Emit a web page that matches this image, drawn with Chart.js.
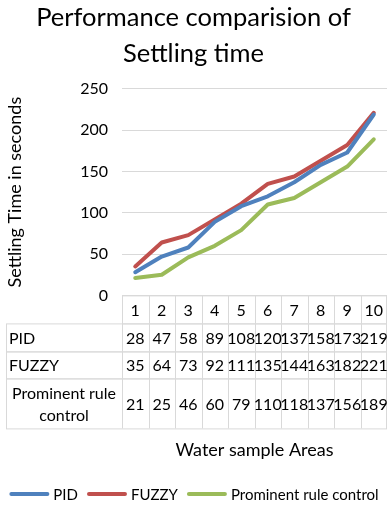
<!DOCTYPE html>
<html>
<head>
<meta charset="utf-8">
<script src="https://cdn.jsdelivr.net/npm/chart.js@4"></script>
<style>
  html, body { margin: 0; padding: 0; background: #fff; }
  #wrap { width: 388px; height: 506px; }
</style>
</head>
<body>
<div id="wrap"><canvas id="chart" width="388" height="506"></canvas></div>
<script>
// chart data
const categories = ['1', '2', '3', '4', '5', '6', '7', '8', '9', '10'];
const pidValues = [28, 47, 58, 89, 108, 120, 137, 158, 173, 219];
const fuzzyValues = [35, 64, 73, 92, 111, 135, 144, 163, 182, 221];
const prominentValues = [21, 25, 46, 60, 79, 110, 118, 137, 156, 189];
const seriesNames = ['PID', 'FUZZY', 'Prominent rule control'];
const tableRowLabels = [['PID'], ['FUZZY'], ['Prominent rule', 'control']];
const yMax = 250;
const yStep = 50;

const FONT = 'Lato, "Open Sans", sans-serif';
const colors = ['#4F81BD', '#C0504D', '#9BBB59'];
const gridColor = '#d9d9d9';

// draws the Excel-like data table under the plot, aligned to the x scale
const dataTablePlugin = {
    id: 'dataTable',
    afterDraw(chart) {
        const ctx = chart.ctx;
        const x = chart.scales.x;
        const top = chart.chartArea.bottom;
        const colW = (x.right - x.left) / categories.length;
        const rowH = [28, 28, 27, 50];
        const tableLeft = 6;
        const rows = [pidValues, fuzzyValues, prominentValues];

        ctx.save();
        ctx.font = '16px ' + FONT;
        ctx.fillStyle = '#000';
        ctx.textBaseline = 'middle';
        ctx.strokeStyle = gridColor;
        ctx.lineWidth = 1;

        // header row
        let y = top;
        ctx.strokeRect(Math.round(x.left) + 0.5, y + 0.5, Math.round(x.right - x.left) - 1, rowH[0]);
        categories.forEach((c, i) => {
            const cx = x.getPixelForValue(i);
            ctx.textAlign = 'center';
            ctx.fillText(c, cx, y + rowH[0] / 2 + 1);
            if (i > 0) {
                const lx = Math.round(x.left + colW * i) + 0.5;
                ctx.beginPath();
                ctx.moveTo(lx, y);
                ctx.lineTo(lx, y + rowH[0]);
                ctx.stroke();
            }
        });
        y += rowH[0];

        // data rows
        rows.forEach((vals, r) => {
            const h = rowH[r + 1];
            ctx.strokeRect(tableLeft + 0.5, y + 0.5, Math.round(x.right) - tableLeft - 1, h);
            ctx.beginPath();
            ctx.moveTo(Math.round(x.left) + 0.5, y);
            ctx.lineTo(Math.round(x.left) + 0.5, y + h);
            ctx.stroke();
            for (let i = 1; i < categories.length; i++) {
                const lx = Math.round(x.left + colW * i) + 0.5;
                ctx.beginPath();
                ctx.moveTo(lx, y);
                ctx.lineTo(lx, y + h);
                ctx.stroke();
            }
            const lines = tableRowLabels[r];
            if (lines.length === 1) {
                ctx.textAlign = 'left';
                ctx.fillText(lines[0], tableLeft + 3, y + h / 2 + 1);
            } else {
                ctx.textAlign = 'center';
                const mid = (tableLeft + x.left) / 2;
                lines.forEach((t, k) => {
                    ctx.fillText(t, mid, y + h / 2 + 1 + (k - (lines.length - 1) / 2) * 22);
                });
            }
            ctx.textAlign = 'center';
            vals.forEach((v, i) => {
                ctx.fillText(String(v), x.getPixelForValue(i), y + h / 2 + 1);
            });
            y += h;
        });
        ctx.restore();
    }
};

// single-row legend along the bottom edge, like Excel's
const bottomLegendPlugin = {
    id: 'bottomLegend',
    afterDraw(chart) {
        const ctx = chart.ctx;
        const lineLen = 36;
        const gap = 4;
        const itemGap = 9;
        const y = chart.height - 12;
        ctx.save();
        ctx.font = '15px ' + FONT;
        ctx.textBaseline = 'middle';
        ctx.textAlign = 'left';
        const items = chart.data.datasets.map(ds => ({
            text: ds.label,
            color: ds.borderColor,
            w: ctx.measureText(ds.label).width
        }));
        const total = items.reduce((s, it) => s + lineLen + 4 + gap + it.w, 0) + itemGap * (items.length - 1);
        let x = (chart.width - total) / 2;
        items.forEach(it => {
            ctx.strokeStyle = it.color;
            ctx.lineWidth = 4;
            ctx.lineCap = 'round';
            ctx.beginPath();
            ctx.moveTo(x + 2, y);
            ctx.lineTo(x + 2 + lineLen, y);
            ctx.stroke();
            x += lineLen + 4 + gap;
            ctx.fillStyle = '#000';
            ctx.fillText(it.text, x, y + 1);
            x += it.w + itemGap;
        });
        ctx.restore();
    }
};

const ctx = document.getElementById('chart').getContext('2d');
new Chart(ctx, {
    type: 'line',
    data: {
        labels: categories,
        datasets: [pidValues, fuzzyValues, prominentValues].map((vals, i) => ({
            label: seriesNames[i],
            data: vals,
            borderColor: colors[i],
            backgroundColor: colors[i],
            borderWidth: 4,
            borderCapStyle: 'round',
            borderJoinStyle: 'round',
            pointRadius: 0,
            tension: 0,
            fill: false
        }))
    },
    options: {
        responsive: false,
        animation: false,
        layout: { padding: { left: 0, right: 1, top: 0, bottom: 0 } },
        plugins: {
            tooltip: { enabled: false },
            legend: { display: false },
            title: {
                display: true,
                text: ['Performance comparision of', 'Settling time'],
                color: '#000',
                font: { family: FONT, size: 25.5, weight: 'normal', lineHeight: 1.41 },
                padding: { top: 0, bottom: 17 }
            }
        },
        scales: {
            x: {
                offset: true,
                grid: { display: false },
                border: { display: false },
                ticks: { display: false },
                title: {
                    display: true,
                    text: 'Water sample Areas',
                    color: '#000',
                    font: { family: FONT, size: 18, lineHeight: 1.2 },
                    padding: { top: 136, bottom: 45 }
                }
            },
            y: {
                min: 0,
                max: yMax,
                ticks: {
                    stepSize: yStep,
                    color: '#000',
                    font: { family: FONT, size: 16 },
                    padding: 14
                },
                grid: { color: gridColor, drawTicks: false },
                border: { display: false },
                title: {
                    display: true,
                    text: 'Settling Time in seconds',
                    color: '#000',
                    font: { family: FONT, size: 18, lineHeight: 1.2 }
                },
                afterFit(scale) { scale.width = 122; }
            }
        }
    },
    plugins: [dataTablePlugin, bottomLegendPlugin]
});
</script>
</body>
</html>
